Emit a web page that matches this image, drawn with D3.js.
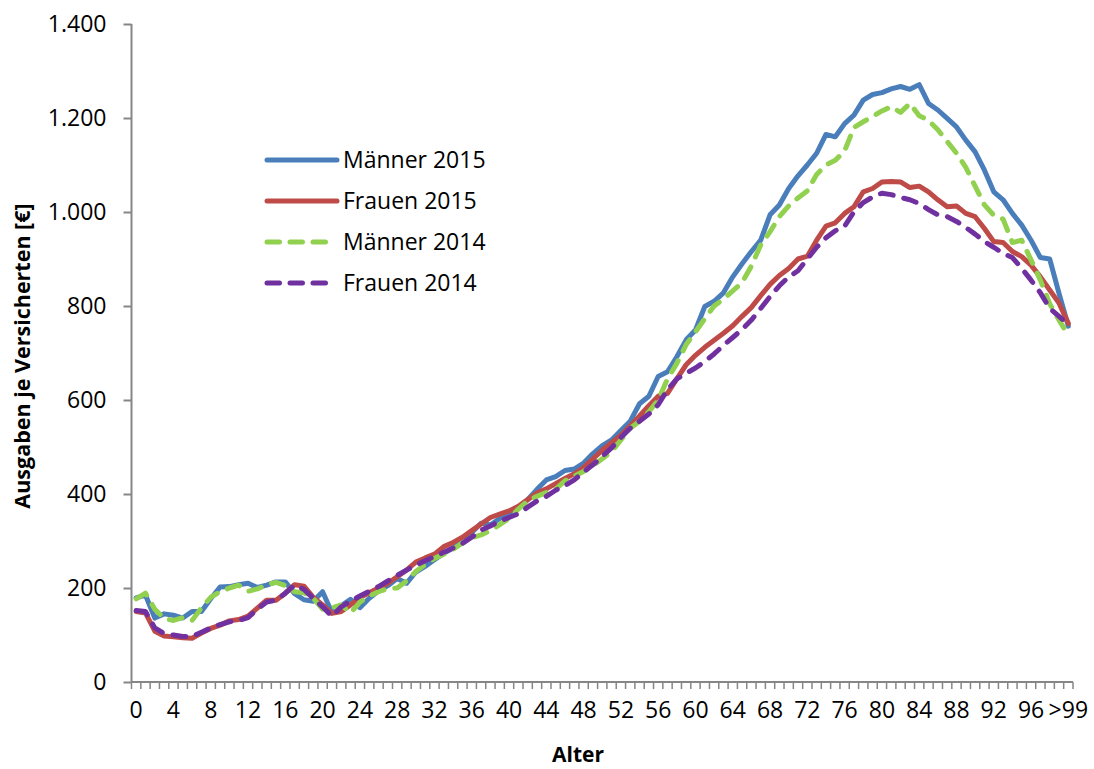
<!DOCTYPE html>
<html>
<head>
<meta charset="utf-8">
<script src="https://cdn.jsdelivr.net/npm/d3@7"></script>
<style>
  body { margin: 0; background: #fff; }
  svg { display: block; font-family: "Open Sans", sans-serif; }
</style>
</head>
<body>
<svg id="chart" width="1094" height="769"></svg>
<script>
// age categories 0..99 and ">99"
var ages = d3.range(100).map(String).concat([">99"]);

var maenner2015 = [179,185,136,145,142,136,150,150,177,202, 203,207,210,201,206,213,213,188,175,172,
  192,148,162,176,158,178,194,205,220,210, 234,246,260,274,285,299,318,338,334,348,
  360,370,388,410,430,437,450,453,466,486, 503,515,535,555,592,608,650,660,692,728,
  749,799,810,828,862,890,916,940,994,1015, 1050,1077,1100,1125,1165,1160,1188,1206,1238,1250,
  1254,1262,1267,1261,1271,1231,1217,1199,1181,1153, 1128,1089,1043,1026,997,972,940,903,900,827, 757];

var frauen2015 = [150,147,108,98,96,94,93,104,114,121, 130,133,140,157,174,174,189,207,204,180,
  164,146,150,164,180,190,200,210,224,238, 255,264,272,288,297,308,322,336,350,357,
  364,374,388,402,411,422,433,443,456,475, 493,509,525,545,566,588,608,614,645,675,
  695,712,727,742,758,778,797,822,846,865, 880,900,906,940,970,977,997,1011,1043,1050,
  1064,1065,1064,1052,1055,1043,1026,1011,1013,997, 990,965,937,935,916,905,887,862,834,806, 763];

var maenner2014 = [177,189,155,135,131,137,131,158,180,192, 200,206,193,198,207,212,205,192,190,178,
  155,158,164,147,170,183,192,199,200,215, 235,250,263,272,282,296,307,313,322,335,
  348,368,385,395,403,410,428,438,448,460, 475,490,515,540,555,575,600,645,678,718,
  745,773,800,815,832,850,885,930,958,990, 1013,1030,1045,1080,1100,1110,1130,1180,1192,1203,
  1215,1224,1212,1231,1205,1195,1175,1150,1125,1095, 1055,1015,993,985,935,940,898,855,805,770, 738];

var frauen2014 = [152,150,115,103,100,97,97,106,115,122, 128,131,137,155,170,174,189,206,197,178,
  160,140,160,172,183,193,203,215,227,238, 248,258,267,276,285,295,308,323,332,342,
  350,358,372,385,395,408,418,430,447,462, 480,498,520,540,555,570,590,622,645,657,
  668,682,698,716,733,750,770,795,820,843, 862,875,900,925,945,960,970,1000,1020,1032,
  1040,1037,1031,1026,1018,1005,994,990,980,967, 953,937,925,912,903,880,855,828,795,778, 760];

var seriesNames = ["Männer 2015", "Frauen 2015", "Männer 2014", "Frauen 2014"];
var seriesValues = [maenner2015, frauen2015, maenner2014, frauen2014];
var seriesColors = ["#4A7EBB", "#BE4B48", "#92D050", "#7030A0"];
var seriesDashed = [false, false, true, true];

var yTicks = [0, 200, 400, 600, 800, 1000, 1200, 1400];

var svg = d3.select("#chart");
// plot area edges (window.top is reserved, so no "top" here)
var plotL = 131.5, plotR = 1073, plotT = 24, plotB = 682;
var axisColor = "#868686";

var x = d3.scaleBand().domain(ages).range([plotL, plotR]).paddingInner(0).paddingOuter(0);
var y = d3.scaleLinear().domain([0, 1400]).range([plotB, plotT]);

var de = d3.formatLocale({decimal: ",", thousands: ".", grouping: [3], currency: ["", "€"]});
var fmt = de.format(",d");

// y axis
var yAxis = svg.append("g")
  .attr("transform", "translate(" + plotL + ",0)")
  .call(d3.axisLeft(y).tickValues(yTicks).tickSize(8).tickPadding(17).tickFormat(fmt));
yAxis.select(".domain").attr("stroke", axisColor).attr("stroke-width", 2).attr("d", "M0," + plotT + "V" + plotB);
yAxis.selectAll(".tick line").attr("stroke", axisColor).attr("stroke-width", 2);
yAxis.selectAll(".tick text").attr("font-size", 23).attr("font-family", "Open Sans").attr("fill", "#000");

// x axis: labels every 4 categories at band centers
var xAxis = svg.append("g")
  .attr("transform", "translate(0," + plotB + ")")
  .call(d3.axisBottom(x).tickValues(ages.filter(function(d, i) { return i % 4 === 0; }))
    .tickSize(0).tickPadding(20));
xAxis.select(".domain").remove();
xAxis.selectAll(".tick text").attr("font-size", 23).attr("font-family", "Open Sans").attr("fill", "#000");

// tick marks between categories
var bounds = ages.map(function(d) { return x(d); }).concat([x(ages[ages.length - 1]) + x.bandwidth()]);
svg.append("g").selectAll("line").data(bounds).join("line")
  .attr("x1", function(d) { return d; }).attr("x2", function(d) { return d; })
  .attr("y1", plotB).attr("y2", plotB + 7)
  .attr("stroke", axisColor).attr("stroke-width", 1.5);
svg.append("line")
  .attr("x1", plotL).attr("x2", plotR).attr("y1", plotB).attr("y2", plotB)
  .attr("stroke", axisColor).attr("stroke-width", 2);

// series lines
var line = d3.line()
  .x(function(d, i) { return x(ages[i]) + x.bandwidth() / 2; })
  .y(function(d) { return y(d); });

seriesValues.forEach(function(vals, k) {
  svg.append("path")
    .attr("d", line(vals))
    .attr("fill", "none")
    .attr("stroke", seriesColors[k])
    .attr("stroke-width", 5)
    .attr("stroke-linejoin", "round")
    .attr("stroke-linecap", "round")
    .attr("stroke-dasharray", seriesDashed[k] ? "13,11" : null);
});

// legend
var legend = svg.append("g").attr("transform", "translate(265,160)");
seriesNames.forEach(function(name, k) {
  var g = legend.append("g").attr("transform", "translate(0," + (k * 41) + ")");
  g.append("line")
    .attr("x1", 2).attr("x2", seriesDashed[k] ? 70 : 72).attr("y1", 0).attr("y2", 0)
    .attr("stroke", seriesColors[k]).attr("stroke-width", 5)
    .attr("stroke-linecap", "round")
    .attr("stroke-dasharray", seriesDashed[k] ? "12.5,10.5" : null);
  g.append("text")
    .attr("x", 78).attr("y", 0).attr("dy", "0.35em")
    .attr("font-size", 23).attr("fill", "#000")
    .text(name);
});

// axis titles
svg.append("text")
  .attr("x", 578).attr("y", 762)
  .attr("text-anchor", "middle")
  .attr("font-size", 21).attr("font-weight", "bold")
  .text("Alter");

svg.append("text")
  .attr("transform", "translate(30," + 356 + ") rotate(-90)")
  .attr("text-anchor", "middle")
  .attr("font-size", 21.5).attr("font-weight", "bold")
  .text("Ausgaben je Versicherten [€]");
</script>
</body>
</html>
